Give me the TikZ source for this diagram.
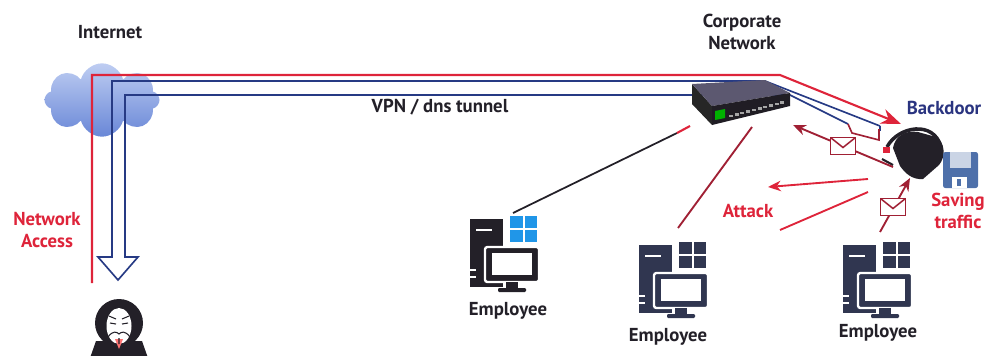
\documentclass[tikz,border=0pt]{standalone}
\usepackage{fontspec}
\setmainfont{PT Sans}
\usetikzlibrary{arrows.meta,shapes.symbols,positioning}

\definecolor{netred}{RGB}{222,36,58}
\definecolor{tunblue}{RGB}{38,58,132}
\definecolor{darkred}{RGB}{160,32,52}
\definecolor{inkdark}{RGB}{35,32,40}
\definecolor{pcnavy}{RGB}{48,54,80}
\definecolor{winblue}{RGB}{32,150,232}
\definecolor{bdblue}{RGB}{42,52,128}
\definecolor{cloudtop}{RGB}{190,205,242}
\definecolor{cloudbot}{RGB}{105,135,215}
\definecolor{floppy}{RGB}{78,112,170}
\definecolor{swtop}{RGB}{92,88,112}

\begin{document}
\begin{tikzpicture}[x=0.03cm,y=-0.03cm,
        pics/workstation/.style args={#1/#2}{code={
            \fill[#1] (0,4) rectangle (33,72);
            \draw[white,line width=2.4pt] (6,15) -- (22,15);
            \draw[white,line width=1.2pt] (0,55) -- (6,55) (0,62) -- (6,62);
            \fill[#1,draw=white,line width=2pt,rounded corners=2pt] (15,32) rectangle (69,67);
            \fill[white] (22,38) rectangle (62,60);
            \fill[#1] (36,67) rectangle (48,74);
            \fill[#1,rounded corners=1pt] (28,73) rectangle (56,77);
            \foreach \i/\j in {0/0,1/0,0/1,1/1}
                \fill[#2] (40+\i*14.5,1+\j*14) rectangle +(12.5,12);
        }},
        pics/envelope/.style={code={
            \draw[darkred,fill=white,line width=1.3pt] (-12.5,-8.5) rectangle (12.5,8.5);
            \draw[darkred,line width=1.3pt] (-12.5,-8.5) -- (0,1.5) -- (12.5,-8.5);
        }}]
        \tikzstyle{lbl}=[font=\bfseries\fontsize{16}{18.5}\selectfont,text=inkdark,align=center]
        \tikzstyle{redlbl}=[lbl,text=netred]
        \tikzstyle{redline}=[draw=netred,line width=1.8pt]
        \tikzstyle{tunnel}=[draw=tunblue,line width=1.4pt,line join=miter]
        \tikzstyle{attack}=[line width=1.6pt]
        \tikzstyle{arr}=[-{Stealth[length=11pt,width=9pt]}]

        \useasboundingbox (0,0) rectangle (988,355);

        % internet side
        \node[cloud,cloud puffs=8,aspect=1.6,minimum width=3.45cm,minimum height=2.2cm,
              top color=cloudtop,bottom color=cloudbot,draw=none] (cloud) at (102,100) {};
        \node[lbl] (inet) at (110,32) {Internet};
        \node[redlbl] (access) at (47,230) {Network\\Access};
        \node[lbl] (corp) at (742,32) {Corporate\\Network};
        \node[lbl] (vpn) at (440,107) {VPN / dns tunnel};
        \node[lbl,text=bdblue] (bdlbl) at (944,108) {Backdoor};
        \node[redlbl] (save) at (958,211) {Saving\\traffic};
        \node[redlbl] (atk) at (748,211) {Attack};

        \coordinate (na)   at (92,283);  % end of network access
        \coordinate (bdin) at (901,124);
        \coordinate (tunA) at (880,126);
        \coordinate (tunB) at (848,124);

        % tunnel lines
        \draw[redline,-{Stealth[length=17pt,width=13pt]}] (na) -- (92,75) -- (780,75) -- (bdin);
        \draw[tunnel] (tunA) -- (765,81) -- (112,81) -- (112,257) -- (98,257) -- (118,280)
                      -- (138,257) -- (125,257) -- (125,95) -- (790,95) -- (tunB);
        \draw[tunnel] (tunA) -- ++(0,5);
        \draw[draw=darkred,line width=1.4pt] (tunB) -- (852,133) -- (879,140) -- (879,129);

        % switch
        \coordinate (sw) at (740,100);
        \fill[black!85] (692,84) -- (712,106) -- (712,125) -- (692,104) -- cycle;
        \fill[swtop] (692,84) -- (765,80) -- (790,93) -- (712,106) -- cycle;
        \fill[inkdark!90!black] (712,106) -- (790,93) -- (790,106) -- (712,125) -- cycle;
        \fill[green!70!black] (715,111) -- (725,109) -- (725,118) -- (715,120) -- cycle;
        \foreach \t in {0,...,9}
            \fill[gray!70] (729+\t*5.7,114.5-\t*1.45) rectangle +(4,2.5);

        % hacker
        \coordinate (hk) at (119,323);
        \fill[inkdark] (90,358) -- (96,341) -- (142,341) -- (148,358) -- cycle;
        \fill[inkdark] (hk) circle (24);
        \fill[white] (119,326) ellipse (12.5 and 18);
        \fill[red!40!pink] (115,339) -- (123,339) -- (119,349) -- cycle;
        \draw[inkdark,line width=0.9pt]
              (109,316) -- (116,319) (122,319) -- (129,316)
              (110,323) -- (116,324) (122,324) -- (128,323)
              (108,337) .. controls (113,330) and (117,332) .. (119,334)
                        .. controls (121,332) and (125,330) .. (130,337)
              (119,338) -- (119,344);

        % employees
        \coordinate (P1) at (470,215);
        \coordinate (P2) at (639,241);
        \coordinate (P3) at (843,241);
        \pic at (P1) {workstation={inkdark/winblue}};
        \pic at (P2) {workstation={pcnavy/pcnavy}};
        \pic at (P3) {workstation={pcnavy/pcnavy}};
        \node[lbl] (E1) at (508,311) {Employee};
        \node[lbl] (E2) at (668,337) {Employee};
        \node[lbl] (E3) at (878,333) {Employee};

        % backdoor and disk
        \node[minimum size=1.5cm] (bd) at (918,155) {};
        \fill[inkdark] (893,148) .. controls (895,136) and (905,130) .. (918,132) -- (936,137)
              .. controls (945,142) and (946,157) .. (939,165) -- (923,179)
              .. controls (912,180) and (905,173) .. (900,166) -- cycle;
        \draw[inkdark,line width=3pt] (887,147) .. controls (898,126) and (934,120) .. (941,147);
        \fill[netred] (883,147) rectangle (890,153);
        \node (disk) at (960,170) {};
        \fill[floppy,rounded corners=2pt] (943,152) rectangle (978,188);
        \fill[white!70!floppy] (950,152) rectangle (971,168);
        \fill[white] (952,177) rectangle (967,188);
        \fill[floppy] (957,179) rectangle (961,186);

        % wires from the employees
        \coordinate (w1) at (513,213);
        \coordinate (s1) at (677,133);
        \draw[inkdark,line width=1.5pt] (w1) -- (s1);
        \draw[netred,line width=1.8pt] (s1) -- (690,126);
        \coordinate (w2) at (678,228);
        \draw[darkred,line width=1.6pt] (w2) -- (752,127);

        % traffic out of the backdoor
        \coordinate (o1) at (893,167);
        \coordinate (o2) at (868,179);
        \coordinate (o3) at (868,192);
        \coordinate (w3) at (880,232);
        \draw[inkdark,line width=1.8pt] (882,159) -- (893,165);
        \draw[attack,darkred,arr] (o1) -- (793,125);
        \draw[attack,netred,arr] (o2) -- (768,187);
        \draw[attack,netred] (o3) -- (780,230);
        \draw[attack,darkred,arr] (w3) -- (910,178);
        \pic at (843,146) {envelope};
        \pic at (893,207) {envelope};
\end{tikzpicture}
\end{document}
